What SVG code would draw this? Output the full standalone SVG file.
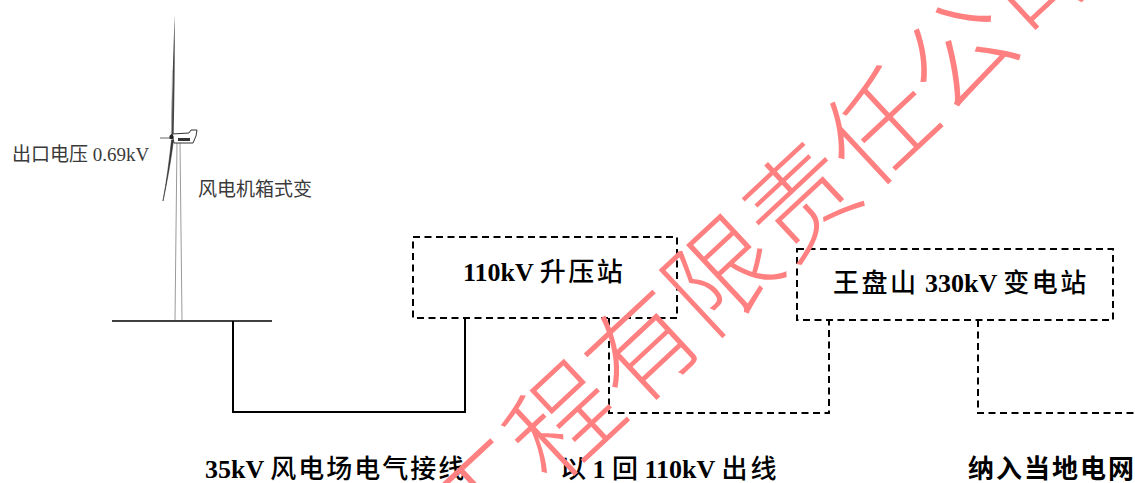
<svg xmlns="http://www.w3.org/2000/svg" width="1135" height="483" viewBox="0 0 1135 483">
  <style>
    .lat { font-family: "Liberation Serif", "Noto Sans CJK SC", serif; }
    .cjk { font-family: "Noto Sans CJK SC", sans-serif; }
    .bold { font-weight: bold; fill: #000; }
    .note { font-size: 19px; fill: #3a3a3a; }
    .title { font-size: 26px; }
    .dash { fill: none; stroke: #000; stroke-width: 2; stroke-dasharray: 7 4.5; }
    .wire { fill: none; stroke: #000; stroke-width: 2; }
    .tower { fill: none; stroke: #9a9a9a; stroke-width: 1; }
    .wm { font-family: "Noto Sans CJK SC", sans-serif; font-weight: 300; font-size: 108px; fill: #ff8080; }
  </style>

  <!-- wind turbine with its ground line -->
  <g id="turbine">
    <line x1="112" y1="321" x2="272" y2="321" stroke="#000" stroke-width="1.5"/>
    <line class="tower" x1="177" y1="142" x2="175" y2="320"/>
    <line class="tower" x1="180" y1="142" x2="182" y2="320"/>
    <!-- upper blade -->
    <path d="M174.6,15 C175,50 174.5,95 173.6,136 L170.8,136 C172,95 173.4,50 174.6,15 Z" fill="#444"/>
    <path d="M172.4,70 L171.4,134" stroke="#bbb" stroke-width="0.8"/>
    <!-- lower blade -->
    <path d="M171.5,140 C169.5,160 166.5,182 163,201 C167,182 171,160 173.5,140 Z" fill="#333" stroke="#333" stroke-width="0.6"/>
    <!-- spinner edge -->
    <line x1="160" y1="138" x2="172" y2="138" stroke="#666" stroke-width="1"/>
    <!-- nacelle -->
    <path d="M172,134 L189,133 L191,130 L197,130 L196,136 L193,143 L174,143 Z" fill="#fff" stroke="#333" stroke-width="1"/>
    <rect x="178" y="138" width="12" height="3" fill="#333"/>
    <circle cx="171.5" cy="137" r="2.2" fill="#222"/>
  </g>

  <g id="label-outlet">
    <text class="lat note" x="12" y="161"><tspan class="cjk">出口电压</tspan> 0.69kV</text>
  </g>
  <g id="label-boxtrans">
    <text class="cjk note" x="198" y="196">风电机箱式变</text>
  </g>

  <!-- 110kV booster station -->
  <g id="node-booster">
    <rect class="dash" x="413" y="237" width="264" height="81"/>
    <text class="lat bold title" x="463" y="281">110kV <tspan class="cjk" font-weight="500" letter-spacing="2.5">升压站</tspan></text>
  </g>

  <!-- Wangpanshan 330kV substation -->
  <g id="node-substation">
    <rect class="dash" x="797" y="249" width="316" height="71"/>
    <text class="lat bold title" x="833" y="292"><tspan class="cjk" font-weight="500" letter-spacing="2.5">王盘山</tspan> 330kV <tspan class="cjk" font-weight="500" letter-spacing="2.5">变电站</tspan></text>
  </g>

  <g id="connectors">
    <path class="wire" d="M233,321 V412 H465 V318"/>
    <path class="dash" d="M609,318 V413 H829 V320"/>
    <path class="dash" d="M978,320 V413 H1135"/>
  </g>

  <g id="bottom-labels">
    <text class="lat bold title" x="205" y="478">35kV <tspan class="cjk" font-weight="500" letter-spacing="2">风电场电气接线</tspan></text>
    <text class="lat bold title" x="560" y="478"><tspan class="cjk" font-weight="500">以</tspan> 1 <tspan class="cjk" font-weight="500">回</tspan> 110kV <tspan class="cjk" font-weight="500" letter-spacing="3">出线</tspan></text>
    <text class="cjk bold title" x="968" y="478" font-weight="500" letter-spacing="2">纳入当地电网</text>
  </g>

  <g id="watermark">
    <text class="wm" x="472" y="561" transform="rotate(-43 472 561)">工程有限责任公司</text>
  </g>
</svg>
